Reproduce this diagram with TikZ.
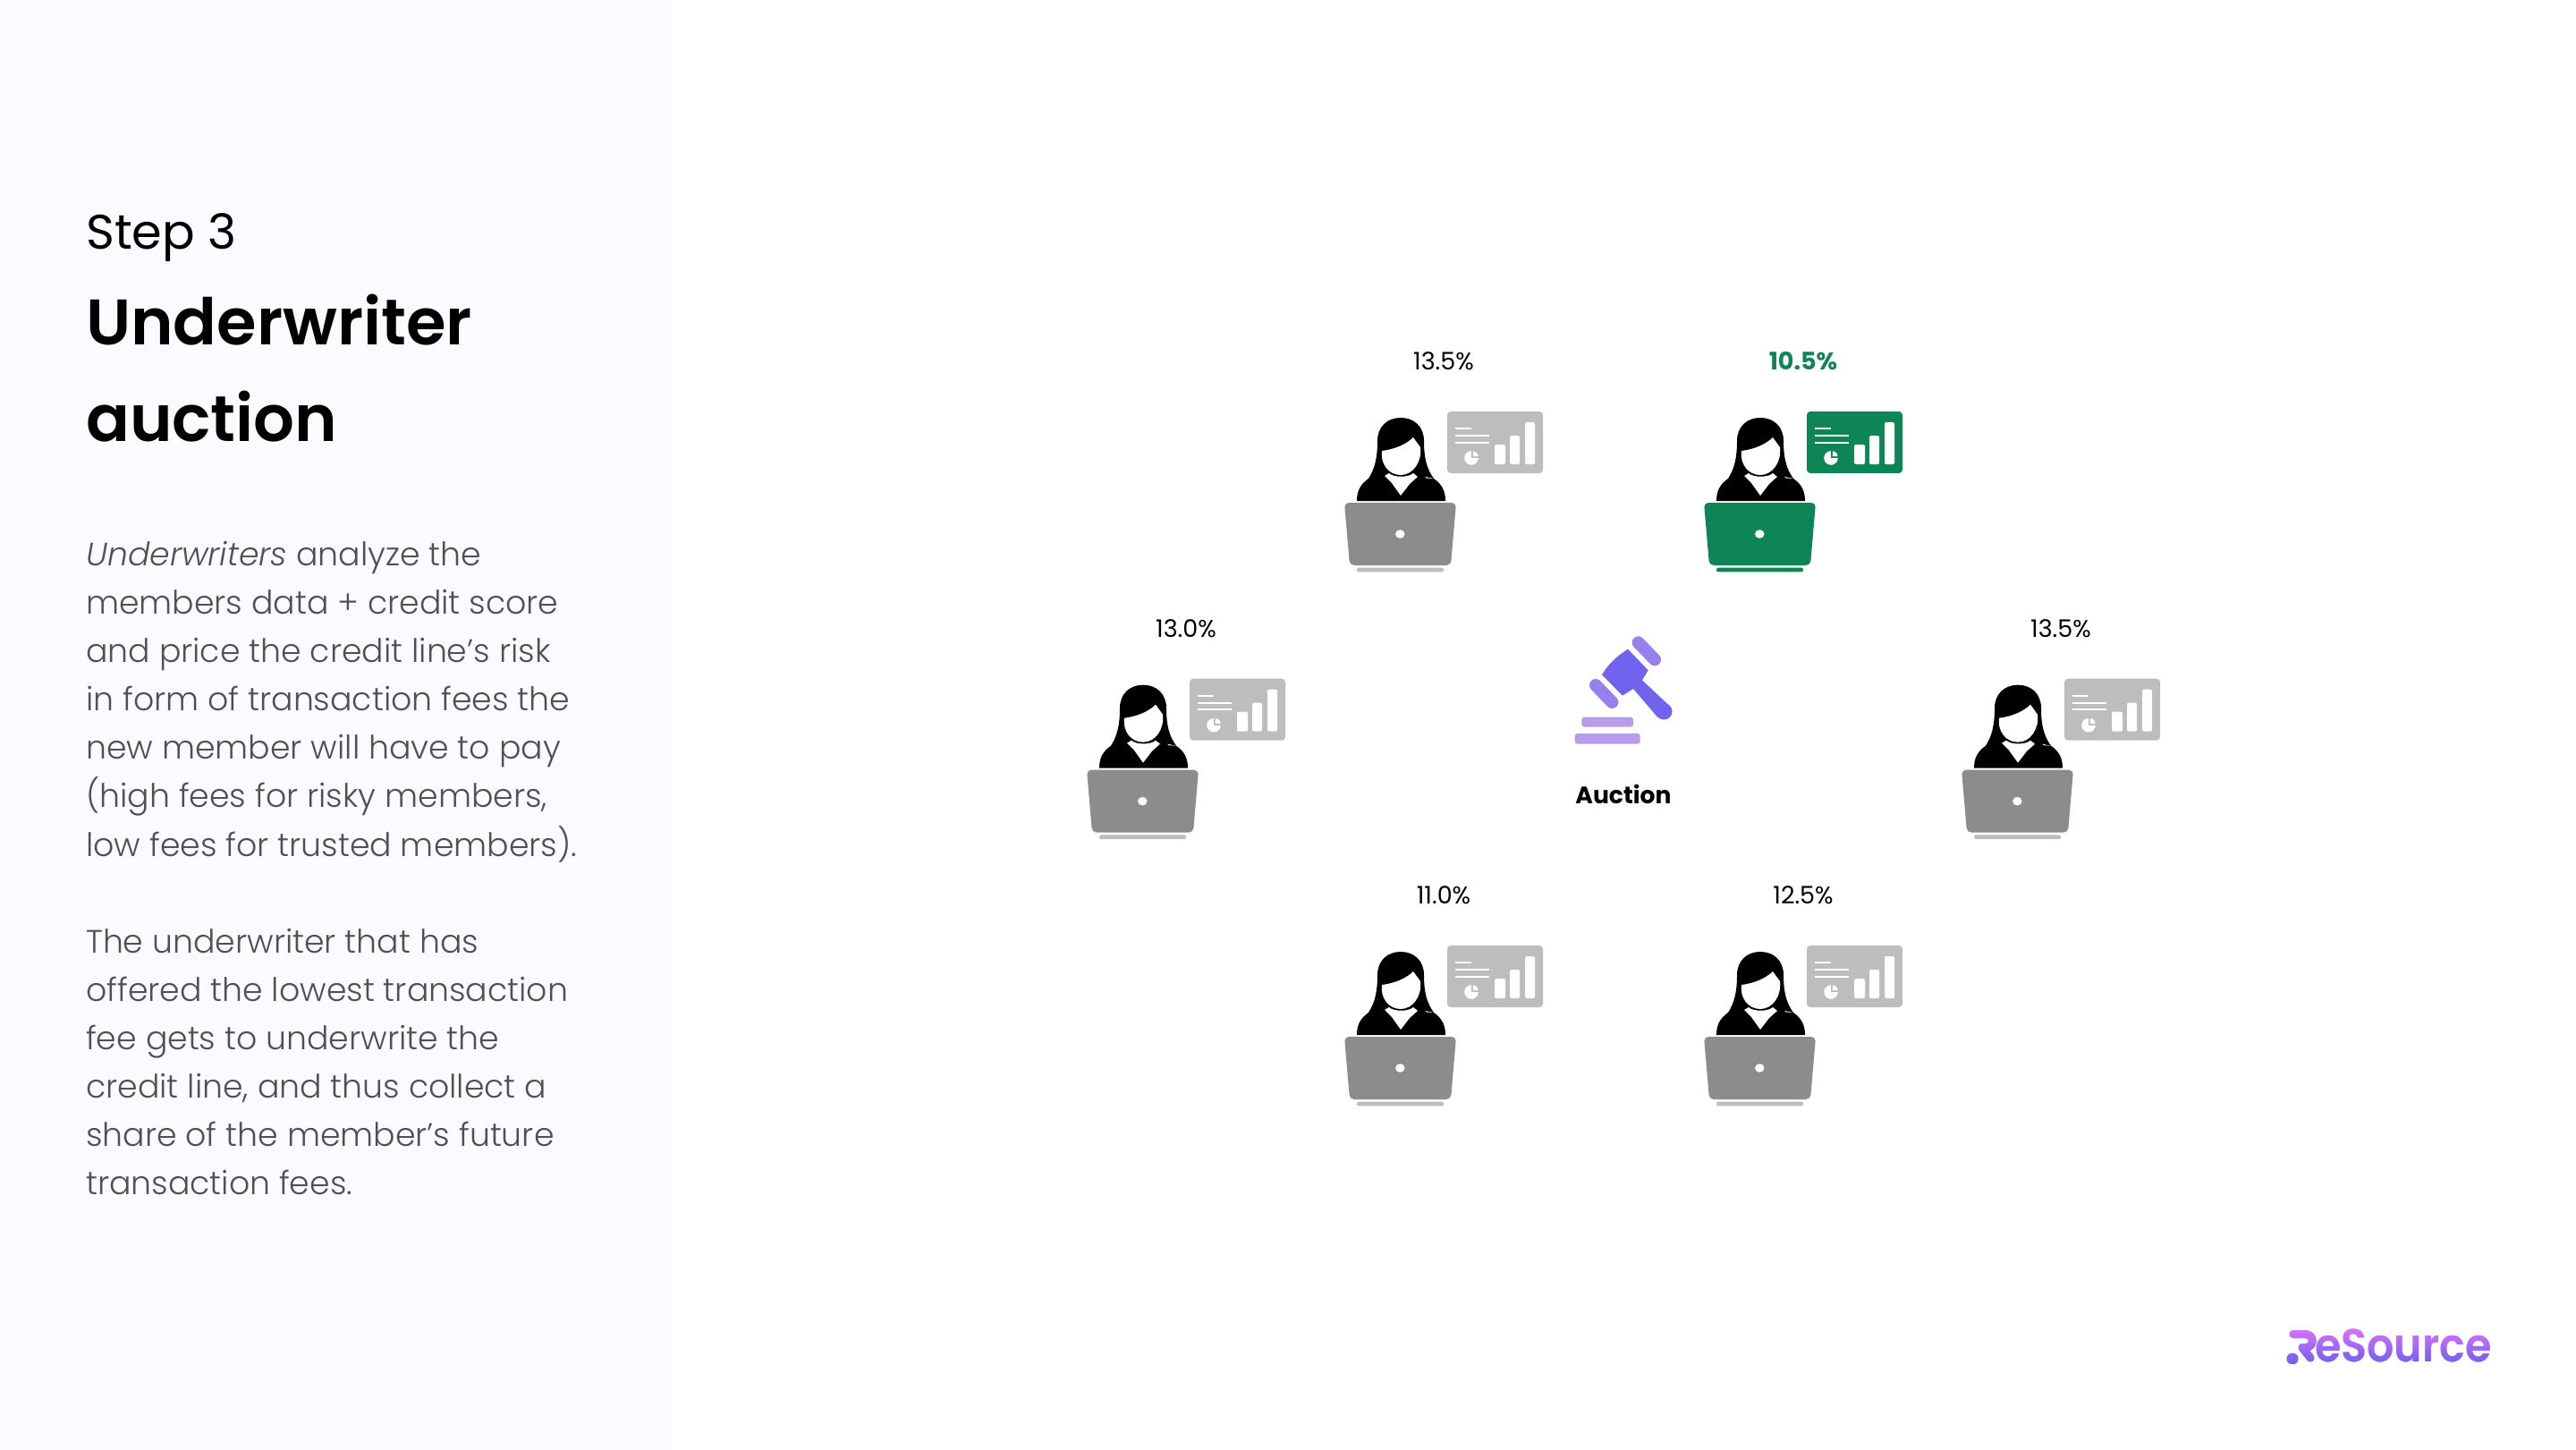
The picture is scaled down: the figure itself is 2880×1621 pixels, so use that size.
\documentclass[tikz,border=0pt]{standalone}
\usepackage{fontspec}
\setmainfont{Poppins}
\newfontfamily\poplight{Poppins Light}[ItalicFont={Poppins Light Italic}]
\newfontfamily\popsemi{Poppins SemiBold}
\definecolor{panelbg}{HTML}{FBFBFF}
\definecolor{bodygray}{HTML}{505050}
\definecolor{winnergreen}{HTML}{0E8556}
\definecolor{laptopgray}{HTML}{8C8C8C}
\definecolor{standgray}{HTML}{BDBDBD}
\definecolor{chartgray}{HTML}{BDBDBD}
\definecolor{hammerdark}{HTML}{7263EE}
\definecolor{hammermid}{HTML}{9680EE}
\definecolor{hammerlight}{HTML}{B89CEC}
\definecolor{logotop}{HTML}{DA70FF}
\definecolor{logobottom}{HTML}{7362EE}
\tikzset{
  rate/.style={font=\fontsize{27}{27}\selectfont, anchor=center, inner sep=0},
  bodytext/.style={anchor=north west, inner sep=0, align=left, text=bodygray,
    font=\poplight\fontsize{36.25}{54.1}\selectfont},
  bar/.style={fill=white, rounded corners=2pt},
}
% #1 x, #2 y (laptop top-left), #3 laptop colour, #4 stand colour, #5 chart colour
\newcommand{\underwriter}[5]{%
 \begin{scope}[shift={(#1,#2)}]
  \fill[black] (27,-27) .. controls (34,-38) and (37,-50) .. (37,-69)
     .. controls (37,-85) and (48,-95) .. (63,-95)
     .. controls (78,-95) and (89,-85) .. (89,-69)
     .. controls (89,-50) and (92,-38) .. (100,-27)
     .. controls (110,-20) and (113,-12) .. (113,-2) -- (14,-2)
     .. controls (14,-12) and (17,-20) .. (27,-27) -- cycle;
  \fill[white] (42,-58) .. controls (58,-60) and (70,-66) .. (77,-73)
     -- (85,-62) .. controls (87,-46) and (77,-31) .. (63,-31)
     .. controls (49,-31) and (40,-44) .. (42,-58) -- cycle;
  \fill[white] (50,-33) -- (45,-30) -- (53,-22) -- (63,-8) -- (73,-21) -- (82,-29) -- (77,-33)
     .. controls (72,-28) and (55,-28) .. (50,-33) -- cycle;
  \fill[white] (90,-29) -- (100,-27) -- (92,-27.5) -- cycle;
  \fill[#3, rounded corners=5pt] (0,0) -- (125,0) -- (119,70) -- (6,70) -- cycle;
  \fill[white] (62.3,35) ellipse (5.2 and 4.8);
  \fill[#4, rounded corners=2pt] (14,72.7) rectangle (111,77.4);
  \fill[#5, rounded corners=4pt] (115,-102) rectangle (222,-33);
  \fill[white] (124,-84) rectangle (142,-82);
  \fill[white] (124,-76) rectangle (162,-74);
  \fill[white] (124,-68.3) rectangle (162,-66.3);
  \fill[white] (142,-50) circle (7.8);
  \fill[#5] (142,-59) rectangle (151,-50);
  \fill[white] (143.8,-51.8) -- (143.8,-57.5) arc[start angle=90,end angle=0,radius=5.7pt] -- cycle;
  \fill[bar] (168,-65) rectangle (180,-43);
  \fill[bar] (185,-75) rectangle (196,-43);
  \fill[bar] (202,-90) rectangle (213,-43);
 \end{scope}
}
\newcommand{\logoart}{%
  \draw[line width=9pt, line cap=round, line join=round]
     (2564,1491.5) -- (2577,1491.5) .. controls (2588,1491.5) and (2588,1506.5) .. (2577,1506.5)
     -- (2574,1506.5) -- (2583,1518);
  \fill (2563,1519) circle (6.5);
  \node[anchor=base west, inner sep=0, xscale=0.915, font=\popsemi\fontsize{52}{52}\selectfont] at (2588,1522.5) {eSource};
}
\begin{document}
\begin{tikzpicture}[x=1pt,y=-1pt]
\useasboundingbox (0,0) rectangle (2880,1621);
\fill[white] (0,0) rectangle (2880,1621);
\fill[panelbg] (0,0) rectangle (750,1621);
% left column
\node[anchor=base west, inner sep=0, font=\fontsize{54.2}{54.2}\selectfont] (step) at (96,278.5) {Step 3};
\node[anchor=base west, inner sep=0, font=\popsemi\fontsize{72}{72}\selectfont] (title1) at (96,385.5) {Underwriter};
\node[anchor=base west, inner sep=0, font=\popsemi\fontsize{72}{72}\selectfont] (title2) at (96,493.5) {auction};
\node[bodytext] (body) at (96,605) {\itshape Underwriters\upshape{} analyze the\\
members data + credit score\\
and price the credit line’s risk\\
in form of transaction fees the\\
new member will have to pay\\
(high fees for risky members,\\
low fees for trusted members).\\
\mbox{}\\
The underwriter that has\\
offered the lowest transaction\\
fee gets to underwrite the\\
credit line, and thus collect a\\
share of the member’s future\\
transaction fees.};
% underwriters
\underwriter{1503}{562}{laptopgray}{standgray}{chartgray}
\underwriter{1905}{562}{winnergreen}{winnergreen}{winnergreen}
\underwriter{1215}{860.7}{laptopgray}{standgray}{chartgray}
\underwriter{2193}{860.7}{laptopgray}{standgray}{chartgray}
\underwriter{1503}{1159}{laptopgray}{standgray}{chartgray}
\underwriter{1905}{1159}{laptopgray}{standgray}{chartgray}
\node[rate] (r1) at (1614,404) {13.5\%};
\node[rate, text=winnergreen, font=\bfseries\fontsize{27}{27}\selectfont] (r2) at (2016,404) {10.5\%};
\node[rate] (r3) at (1326,702.5) {13.0\%};
\node[rate] (r4) at (2304,702.5) {13.5\%};
\node[rate] (r5) at (1614,1001) {11.0\%};
\node[rate] (r6) at (2016,1001) {12.5\%};
% gavel
\begin{scope}[shift={(1740,690)}, x=0.3333pt, y=-0.3333pt]
  \fill[hammerlight, rounded corners=3pt] (85,368) -- (85,335) -- (258,335) -- (258,368) -- cycle;
  \fill[hammerlight, rounded corners=3pt] (62,425) -- (62,390) -- (281,390) -- (281,425) -- cycle;
  \draw[hammermid, line width=14pt, line cap=round] (275,85) -- (330,142);
  \draw[hammermid, line width=14pt, line cap=round] (132,228) -- (187,285);
  \fill[hammerdark] (240,107) -- (308,178) -- (288,211) -- (380,298) -- (340,336) -- (258,240) -- (222,263) -- (153,193)
     .. controls (175,155) and (205,130) .. (240,107) -- cycle;
  \fill[hammerdark] (361,316) circle (9.2pt);
\end{scope}
\node[anchor=center, inner sep=0, font=\bfseries\fontsize{26.6}{26.6}\selectfont] (auction) at (1815,888) {Auction};
% logo, gradient built from clipped strips
\foreach \i in {0,...,17}{
  \pgfmathsetmacro{\mixv}{100-\i*100/17}
  \begin{scope}[color=logotop!\mixv!logobottom, fill=logotop!\mixv!logobottom, text=logotop!\mixv!logobottom]
    \clip (2550,1485+\i*2.2) rectangle (2800,1485+\i*2.2+2.4);
    \logoart
  \end{scope}
}
\end{tikzpicture}
\end{document}
